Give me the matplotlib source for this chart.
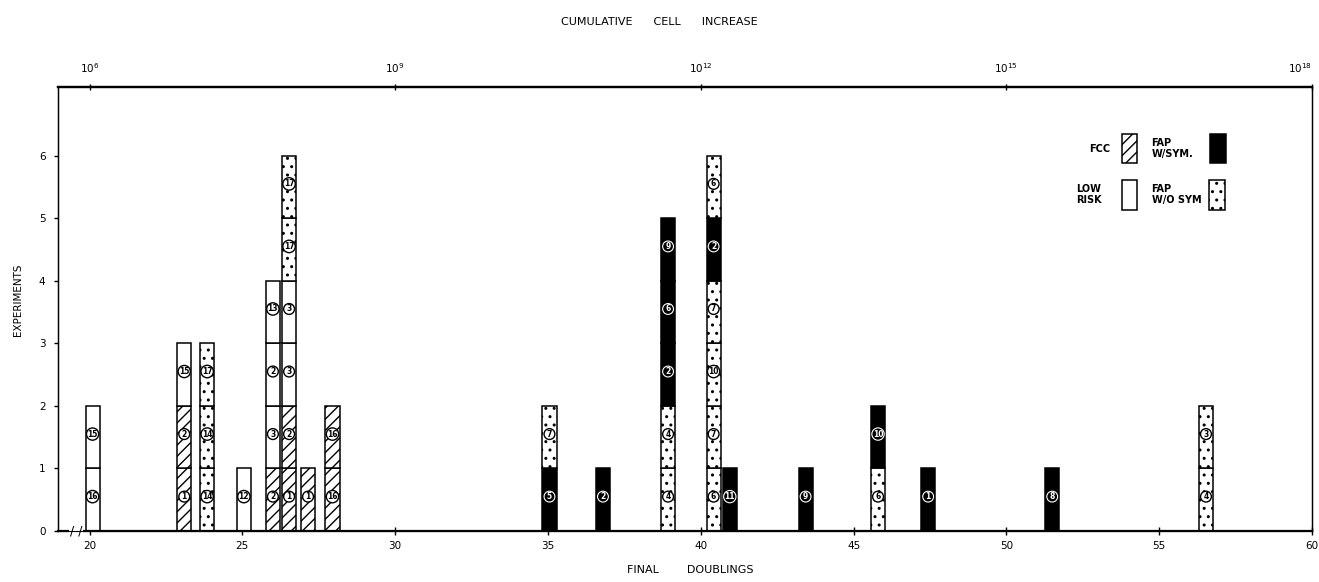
import matplotlib
matplotlib.use('Agg')
import matplotlib.pyplot as plt
from matplotlib.patches import Rectangle

plt.rcParams['hatch.linewidth'] = 1.0
plt.rcParams['font.family'] = 'DejaVu Sans'

# stacks of experiments: x = final doublings
positions = [20.1, 23.1, 23.85, 25.05, 26.0, 26.53, 27.15, 27.95,
             35.05, 36.8, 38.93, 40.42, 40.95, 43.43, 45.8, 47.44, 51.5, 56.53]
# F = FCC, L = low risk, B = FAP w/sym, D = FAP w/o sym (bottom to top)
groups = [
    ['L', 'L'],
    ['F', 'F', 'L'],
    ['D', 'D', 'D'],
    ['L'],
    ['F', 'L', 'L', 'L'],
    ['F', 'F', 'L', 'L', 'D', 'D'],
    ['F'],
    ['F', 'F'],
    ['B', 'D'],
    ['B'],
    ['D', 'D', 'B', 'B', 'B'],
    ['D', 'D', 'D', 'D', 'B', 'D'],
    ['B'],
    ['B'],
    ['D', 'B'],
    ['B'],
    ['B'],
    ['D', 'D'],
]
labels = [
    ['16', '15'],
    ['1', '2', '15'],
    ['14', '14', '17'],
    ['12'],
    ['2', '3', '2', '13'],
    ['1', '2', '3', '3', '17', '17'],
    ['1'],
    ['16', '16'],
    ['5', '7'],
    ['2'],
    ['4', '4', '2', '6', '9'],
    ['6', '7', '10', '7', '2', '6'],
    ['11'],
    ['9'],
    ['6', '10'],
    ['1'],
    ['8'],
    ['4', '3'],
]

x_ticks = [20, 25, 30, 35, 40, 45, 50, 55, 60]
top_ticks = [20, 30, 40, 50, 60]
top_labels = ['$10^{6}$', '$10^{9}$', '$10^{12}$', '$10^{15}$', '$10^{18}$']
y_ticks = [0, 1, 2, 3, 4, 5, 6]

styles = {
    'F': dict(facecolor='white', hatch='///'),
    'L': dict(facecolor='white', hatch=None),
    'B': dict(facecolor='black', hatch=None),
    'D': dict(facecolor='white', hatch='..'),
}

fig = plt.figure(figsize=(13.19, 5.82), dpi=100)
ax = fig.add_axes([0.044, 0.0876, 0.9507, 0.763])

bar_w = 0.46
for x, grp, labs in zip(positions, groups, labels):
    for i, (kind, lab) in enumerate(zip(grp, labs)):
        st = styles[kind]
        ax.bar(x, 1, bottom=i, width=bar_w, facecolor=st['facecolor'],
               hatch=st['hatch'], edgecolor='black', linewidth=1.1, zorder=2)
        if kind == 'B':
            ax.text(x, i + 0.55, lab, ha='center', va='center', fontsize=5.5,
                    color='white', fontweight='bold', zorder=4,
                    bbox=dict(boxstyle='circle,pad=0.12', fc='black', ec='white', lw=0.8))
        else:
            ax.text(x, i + 0.55, lab, ha='center', va='center', fontsize=5.5,
                    color='black', fontweight='bold', zorder=4,
                    bbox=dict(boxstyle='circle,pad=0.12', fc='white', ec='black', lw=1.0))

ax.set_xlim(18.97, 60)
ax.set_ylim(0, 7.1)
ax.set_xticks(x_ticks)
ax.set_xticklabels([str(t) for t in x_ticks], fontsize=7.5)
ax.set_yticks(y_ticks)
ax.set_yticklabels([str(t) for t in y_ticks], fontsize=7.5)
ax.tick_params(axis='x', direction='inout', length=6, width=1.0, pad=4)
ax.tick_params(axis='y', direction='out', length=3, width=1.0, pad=6)
for side in ['left', 'right', 'bottom']:
    ax.spines[side].set_linewidth(1.0)
ax.spines['top'].set_linewidth(1.6)
ax.spines['bottom'].set_linewidth(1.6)

top = ax.twiny()
top.set_xlim(ax.get_xlim())
top.set_xticks(top_ticks)
top.set_xticklabels(top_labels, fontsize=7.5)
top.tick_params(axis='x', direction='inout', length=5, width=1.0, pad=6)
top.spines['top'].set_linewidth(1.6)
top.get_xticklabels()[-1].set_horizontalalignment('right')

# axis break mark near origin
ax.text(19.55, 0, '/ /', ha='center', va='center', fontsize=9, zorder=5,
        bbox=dict(boxstyle='square,pad=0.05', fc='white', ec='none'))

# legend
tr = ax.transAxes
ax.add_patch(Rectangle((0.8485, 0.829), 0.012, 0.065, transform=tr, fc='white',
                       ec='black', hatch='///', lw=1.1, zorder=5))
ax.add_patch(Rectangle((0.9187, 0.829), 0.013, 0.065, transform=tr, fc='black',
                       ec='black', lw=1.1, zorder=5))
ax.add_patch(Rectangle((0.8485, 0.723), 0.012, 0.067, transform=tr, fc='white',
                       ec='black', lw=1.1, zorder=5))
ax.add_patch(Rectangle((0.9175, 0.723), 0.013, 0.067, transform=tr, fc='white',
                       ec='black', hatch='..', lw=1.1, zorder=5))
ax.text(0.8395, 0.861, 'FCC', transform=tr, ha='right', va='center', fontsize=7, fontweight='bold')
ax.text(0.872, 0.861, 'FAP\nW/SYM.', transform=tr, ha='left', va='center', fontsize=7,
        fontweight='bold', linespacing=1.1)
ax.text(0.812, 0.757, 'LOW\nRISK', transform=tr, ha='left', va='center', fontsize=7,
        fontweight='bold', linespacing=1.1)
ax.text(0.872, 0.757, 'FAP\nW/O SYM', transform=tr, ha='left', va='center', fontsize=7,
        fontweight='bold', linespacing=1.1)

fig.text(0.5, 0.962, 'CUMULATIVE      CELL      INCREASE', ha='center', va='center', fontsize=8)
fig.text(0.523, 0.02, 'FINAL        DOUBLINGS', ha='center', va='center', fontsize=8)
fig.text(0.0136, 0.485, 'EXPERIMENTS', ha='center', va='center', rotation=90, fontsize=7.5)

fig.savefig('out.png', dpi=100)
